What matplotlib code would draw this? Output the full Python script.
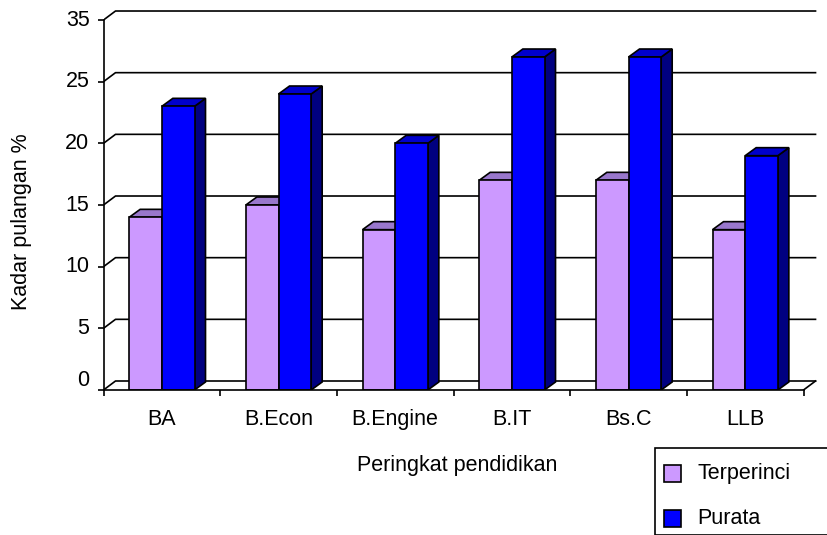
import matplotlib
matplotlib.use("Agg")
import matplotlib.pyplot as plt
from matplotlib.patches import Polygon, Rectangle
from matplotlib.lines import Line2D
from matplotlib.transforms import offset_copy

plt.rcParams['font.family'] = ['Liberation Sans', 'DejaVu Sans']

categories = ["BA", "B.Econ", "B.Engine", "B.IT", "Bs.C", "LLB"]
terperinci = [14, 15, 13, 17, 17, 13]
purata = [23, 24, 20, 27, 27, 19]
series_names = ["Terperinci", "Purata"]
ytick_values = [0, 5, 10, 15, 20, 25, 30]
ytick_labels = ["0", "5", "10", "15", "20", "25", "35"]
xlabel = "Peringkat pendidikan"
ylabel = "Kadar pulangan %"

W, H = 827, 535
FS = 15.5
fig = plt.figure(figsize=(W / 100, H / 100), dpi=100)

# geometry (pixels)
px_per_x = 116.67
px_per_y = 12.333
ax_left_px, ax_bottom_px = 103.5, 390
xlim = (-0.5, 5.62)
ylim = (0, 31)
ax_w = (xlim[1] - xlim[0]) * px_per_x
ax_h = (ylim[1] - ylim[0]) * px_per_y
ax = fig.add_axes([ax_left_px / W, (H - ax_bottom_px) / H, ax_w / W, ax_h / H])
ax.set_xlim(*xlim)
ax.set_ylim(*ylim)
ax.set_facecolor('none')

wall_dx, wall_dy = 12 / px_per_x, 9 / px_per_y
bar_dx, bar_dy = 11 / px_per_x, 8 / px_per_y
bar_w = 0.28
lw = 1.2

# back wall gridlines with left-wall diagonals
x_left, x_right = -0.5, len(categories) - 0.5
for v in ytick_values:
    ax.add_line(Line2D([x_left, x_left + wall_dx, x_right + wall_dx],
                       [v, v + wall_dy, v + wall_dy], color='black', lw=lw, zorder=1))
# floor right diagonal
ax.add_line(Line2D([x_right, x_right + wall_dx], [0, wall_dy], color='black', lw=lw, zorder=1))

fronts = ['#CC99FF', '#0000FF']
tops = ['#9977CC', '#0000CC']
sides = ['#6644AA', '#000080']

for i in range(len(categories)):
    for s, vals in enumerate([terperinci, purata]):
        h = vals[i]
        x0 = i - bar_w + s * bar_w
        x1 = x0 + bar_w
        z = 3 + s
        # side
        ax.add_patch(Polygon([(x1, 0), (x1 + bar_dx, bar_dy), (x1 + bar_dx, h + bar_dy), (x1, h)],
                             closed=True, facecolor=sides[s], edgecolor='black', lw=lw, zorder=z))
        # top
        ax.add_patch(Polygon([(x0, h), (x1, h), (x1 + bar_dx, h + bar_dy), (x0 + bar_dx, h + bar_dy)],
                             closed=True, facecolor=tops[s], edgecolor='black', lw=lw, zorder=z))
        # front
        ax.add_patch(Rectangle((x0, 0), bar_w, h, facecolor=fronts[s], edgecolor='black',
                               lw=lw, zorder=z + 0.5))

# spines
for sp in ['top', 'right']:
    ax.spines[sp].set_visible(False)
ax.spines['left'].set_bounds(0, 30)
ax.spines['bottom'].set_bounds(x_left, x_right)
ax.spines['left'].set_linewidth(lw)
ax.spines['bottom'].set_linewidth(lw)
ax.spines['left'].set_zorder(6)
ax.spines['bottom'].set_zorder(6)

ax.set_yticks(ytick_values)
ax.set_yticklabels([])
ax.tick_params(axis='y', direction='out', length=4.3, width=lw)
for v, lab in zip(ytick_values, ytick_labels):
    dy = 9 if v == 0 else 0
    ax.text(x_left, v, lab, ha='right', va='center', fontsize=FS,
            transform=offset_copy(ax.transData, fig=fig, x=-14, y=dy, units='dots'))

ax.set_xticks(range(len(categories)))
ax.set_xticklabels(categories, fontsize=FS)
ax.tick_params(axis='x', which='major', length=0, pad=14)
ax.set_xticks([i - 0.5 for i in range(len(categories) + 1)], minor=True)
ax.tick_params(axis='x', which='minor', direction='out', length=4.3, width=lw)

fig.text(457 / W, 1 - 466 / H, xlabel, ha='center', va='center', fontsize=FS)
fig.text(22 / W, 1 - 222 / H, ylabel, ha='center', va='center', fontsize=FS, rotation=90)

# legend box (extends off the canvas as in the reference)
fig.add_artist(Rectangle((655 / W, 0), 200 / W, 1 - 448 / H, transform=fig.transFigure,
                         facecolor='white', edgecolor='black', lw=1.2, clip_on=False))
for k, (name, col) in enumerate(zip(series_names, fronts)):
    cy = [473, 518][k]
    fig.add_artist(Rectangle((664 / W, 1 - (cy + 8.5) / H), 17 / W, 17 / H, transform=fig.transFigure,
                             facecolor=col, edgecolor='black', lw=1.2))
    fig.text(697 / W, 1 - cy / H, name, ha='left', va='center', fontsize=FS)

fig.savefig('out.png', dpi=100)
